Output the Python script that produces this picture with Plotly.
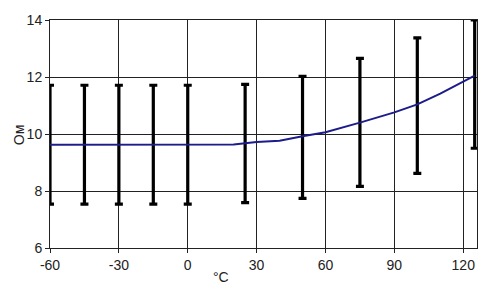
import plotly.graph_objects as go

# Resistance curve (Ohm vs temperature)
curve_t = [-60, -30, 0, 20, 30, 40, 50, 60, 75, 90, 100, 110, 125]
curve_r = [9.62, 9.62, 9.62, 9.63, 9.72, 9.76, 9.92, 10.06, 10.40, 10.76, 11.04, 11.42, 12.05]

# Tolerance bars
bar_t = [-60, -45, -30, -15, 0, 25, 50, 75, 100, 125]
bar_hi = [11.71, 11.71, 11.71, 11.71, 11.71, 11.74, 12.02, 12.65, 13.37, 14.0]
bar_lo = [7.54, 7.54, 7.54, 7.54, 7.54, 7.59, 7.74, 8.16, 8.62, 9.5]

x_ticks = [-60, -30, 0, 30, 60, 90, 120]
x_labels = ["-60", "-30", "0", "30", "60", "90", "120"]
y_ticks = [6, 8, 10, 12, 14]
y_labels = ["6", "8", "10", "12", "14"]

mid = [(h + l) / 2 for h, l in zip(bar_hi, bar_lo)]
plus = [h - m for h, m in zip(bar_hi, mid)]
minus = [m - l for l, m in zip(bar_lo, mid)]

fig = go.Figure()
fig.add_trace(go.Scatter(
    x=bar_t, y=mid, mode="markers",
    marker=dict(size=0.1, color="rgba(0,0,0,0)"),
    error_y=dict(type="data", symmetric=False, array=plus, arrayminus=minus,
                 color="black", thickness=3.2, width=4),
    cliponaxis=False, showlegend=False, hoverinfo="skip",
))
fig.add_trace(go.Scatter(
    x=curve_t, y=curve_r, mode="lines",
    line=dict(color="#1c1c8a", width=2),
    showlegend=False, cliponaxis=False,
))

font = dict(family="Liberation Sans, Arial", size=14, color="#222222")
axis_common = dict(
    showgrid=True, gridcolor="#222222", gridwidth=1,
    showline=True, linecolor="#222222", linewidth=1, mirror=True,
    ticks="outside", ticklen=4, tickcolor="#222222",
    tickfont=font, zeroline=False,
)
fig.update_xaxes(range=[-60, 126], tickvals=x_ticks, ticktext=x_labels, **axis_common)
fig.update_yaxes(range=[6, 14], tickvals=y_ticks, ticktext=y_labels, **axis_common)

fig.add_annotation(text="Ом", xref="paper", yref="paper", x=-0.072, y=0.496,
                   xanchor="center", yanchor="middle",
                   textangle=-90, showarrow=False, font=font)
fig.add_annotation(text="°C", xref="paper", yref="paper", x=0.40, y=-0.128,
                   xanchor="center", yanchor="middle",
                   showarrow=False, font=font)

fig.update_layout(
    width=500, height=296,
    margin=dict(l=50, r=23, t=16, b=48),
    paper_bgcolor="white", plot_bgcolor="white",
)
fig.write_html("out.html")
